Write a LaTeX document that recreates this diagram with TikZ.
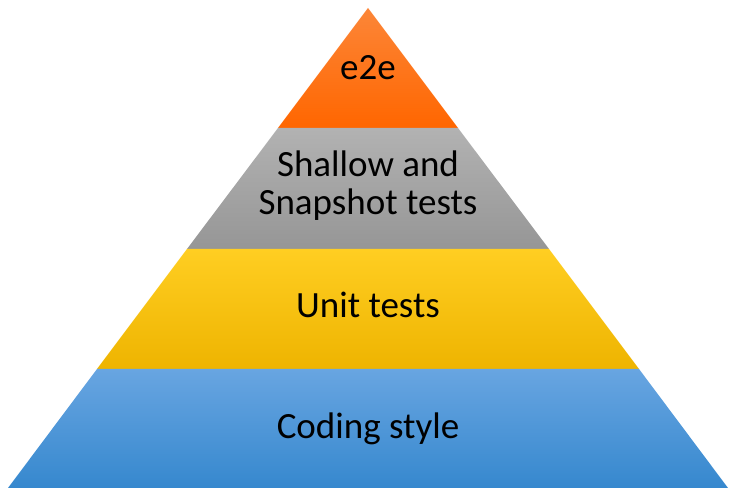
\documentclass[tikz,border=0pt]{standalone}
\usepackage{fontspec}
\setmainfont{Carlito}
\usepackage{tikz}
\definecolor{orangetop}{RGB}{252,134,56}
\definecolor{orangebot}{RGB}{255,102,0}
\definecolor{graytop}{RGB}{178,178,178}
\definecolor{graybot}{RGB}{150,150,150}
\definecolor{yellowtop}{RGB}{255,206,34}
\definecolor{yellowmid}{RGB}{255,199,0}
\definecolor{yellowbot}{RGB}{238,180,0}
\definecolor{bluetop}{RGB}{104,165,225}
\definecolor{bluebot}{RGB}{54,136,206}
\tikzset{
  layer/.style={draw=none},
  lbl/.style={anchor=base, font=\fontsize{37}{38}\selectfont, text=black, inner sep=0pt}
}

\begin{document}
\begin{tikzpicture}[x=1pt, y=1pt]
  \useasboundingbox (0,0) rectangle (735,494);
  % pyramid layers, top to bottom
  \shade[layer, top color=orangetop, bottom color=orangebot] (368,486) -- (458,366) -- (278,366) -- cycle;
  \shade[layer, top color=graytop, bottom color=graybot] (278,366) -- (458,366) -- (549,245) -- (187,245) -- cycle;
  \shade[layer, top color=yellowtop, middle color=yellowmid, bottom color=yellowbot] (187,245) -- (549,245) -- (639,125) -- (97,125) -- cycle;
  \shade[layer, top color=bluetop, bottom color=bluebot] (97,125) -- (639,125) -- (728,6) -- (8,6) -- cycle;
  % labels
  \node[lbl] (e2e) at (368,414) {e2e};
  \node[lbl] (shallow) at (368,317) {Shallow and};
  \node[lbl] (snapshot) at (368,279) {Snapshot tests};
  \node[lbl] (unit) at (368,176) {Unit tests};
  \node[lbl] (coding) at (368,55) {Coding style};
\end{tikzpicture}
\end{document}
